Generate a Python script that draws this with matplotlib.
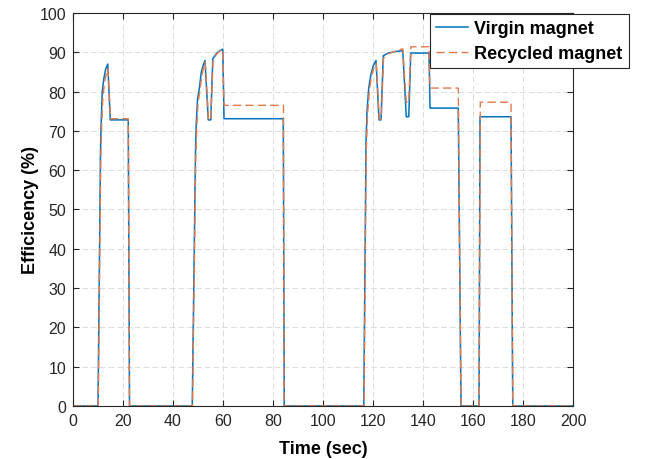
import matplotlib.pyplot as plt
import numpy as np

plt.rcParams["font.family"] = ["Liberation Sans", "DejaVu Sans"]

# virgin magnet efficiency trace
t_virgin = [0, 10.0, 11.0, 11.3, 11.7, 12.3, 13.1, 13.9, 14.9, 22.1, 22.6,
            47.7, 49.0, 49.3, 49.8, 50.5, 51.3, 52.0, 52.8, 54.1, 55.1, 55.9,
            57.5, 58.7, 59.9, 60.4, 84.1, 84.5,
            116.3, 117.2, 117.6, 118.3, 119.2, 120.1, 121.2, 122.4, 123.2,
            124.1, 126.0, 129.0, 131.9, 133.3, 134.3, 135.1, 142.4, 142.8,
            154.1, 155.2, 162.4, 162.8, 175.2, 175.9, 200]
eff_virgin = [0, 0, 65, 73, 80, 83.2, 85.8, 87.0, 72.8, 72.8, 0,
              0, 65, 72, 78, 80.7, 84.9, 86.6, 87.9, 72.8, 72.8, 88.3,
              89.8, 90.4, 90.8, 73.1, 73.1, 0,
              0, 67, 75, 81, 84.5, 86.6, 87.9, 72.8, 72.8,
              89.1, 89.8, 90.2, 90.4, 73.6, 73.6, 89.8, 89.8, 75.8,
              75.8, 0, 0, 73.6, 73.6, 0, 0]

# recycled magnet efficiency trace
t_recycled = [0, 10.1, 11.1, 11.5, 11.9, 12.5, 13.3, 14.0, 15.0, 22.1, 22.6,
              47.8, 49.1, 49.5, 50.0, 50.7, 51.5, 52.2, 52.9, 54.2, 55.1, 56.0,
              57.5, 58.7, 59.9, 60.4, 84.2, 84.4,
              116.4, 117.3, 117.8, 118.5, 119.4, 120.3, 121.3, 122.5, 123.3,
              124.2, 126.0, 129.0, 131.9, 133.3, 134.3, 135.1, 142.4, 142.8,
              154.1, 155.2, 162.5, 162.9, 175.2, 175.9, 200]
eff_recycled = [0, 0, 63, 72, 78, 82, 84.5, 85.8, 73.1, 73.1, 0,
                0, 63, 71, 77, 80, 84, 86, 87.5, 72.8, 72.8, 87.8,
                89.6, 90.3, 90.7, 76.5, 76.5, 0,
                0, 65, 74, 80, 84, 86, 87.2, 73, 73,
                88.5, 89.6, 90.3, 90.9, 77.3, 77.3, 91.4, 91.4, 80.9,
                80.9, 0, 0, 77.3, 77.3, 0, 0]

fig = plt.figure(figsize=(6.56, 4.6), dpi=100)
ax = fig.add_axes([0.1113, 0.1152, 0.7622, 0.8544])

ax.plot(t_virgin, eff_virgin, color="#0072BD", lw=1.1, label="Virgin magnet")
ax.plot(t_recycled, eff_recycled, color="#E47A4A", lw=1.0,
        linestyle=(0, (6, 3)), label="Recycled magnet")

ax.set_xlim(0, 200)
ax.set_ylim(0, 100)
ax.set_xticks(np.arange(0, 201, 20))
ax.set_yticks(np.arange(0, 101, 10))
ax.tick_params(direction="in", length=4, width=0.8, labelsize=11.5,
               top=True, right=True, colors="#262626", pad=5)
for s in ax.spines.values():
    s.set_color("#262626")
    s.set_linewidth(0.8)
ax.grid(True, color="#dcdcdc", linestyle=(0, (6, 3)), linewidth=0.7)
ax.set_axisbelow(True)

ax.set_xlabel("Time (sec)", fontsize=13, fontweight="bold", labelpad=8.5)
ax.set_ylabel("Efficicency (%)", fontsize=13, fontweight="bold", labelpad=0.5)

leg = ax.legend(loc="upper left", bbox_to_anchor=(430 / 656, 1 - 15 / 460),
                bbox_transform=fig.transFigure, fancybox=False, framealpha=1,
                edgecolor="#262626", prop={"weight": "bold", "size": 13},
                handlelength=1.75, handletextpad=0.35, borderpad=0.35,
                labelspacing=0.42, borderaxespad=0)
leg.get_frame().set_linewidth(0.8)

fig.savefig("out.png", dpi=100)
